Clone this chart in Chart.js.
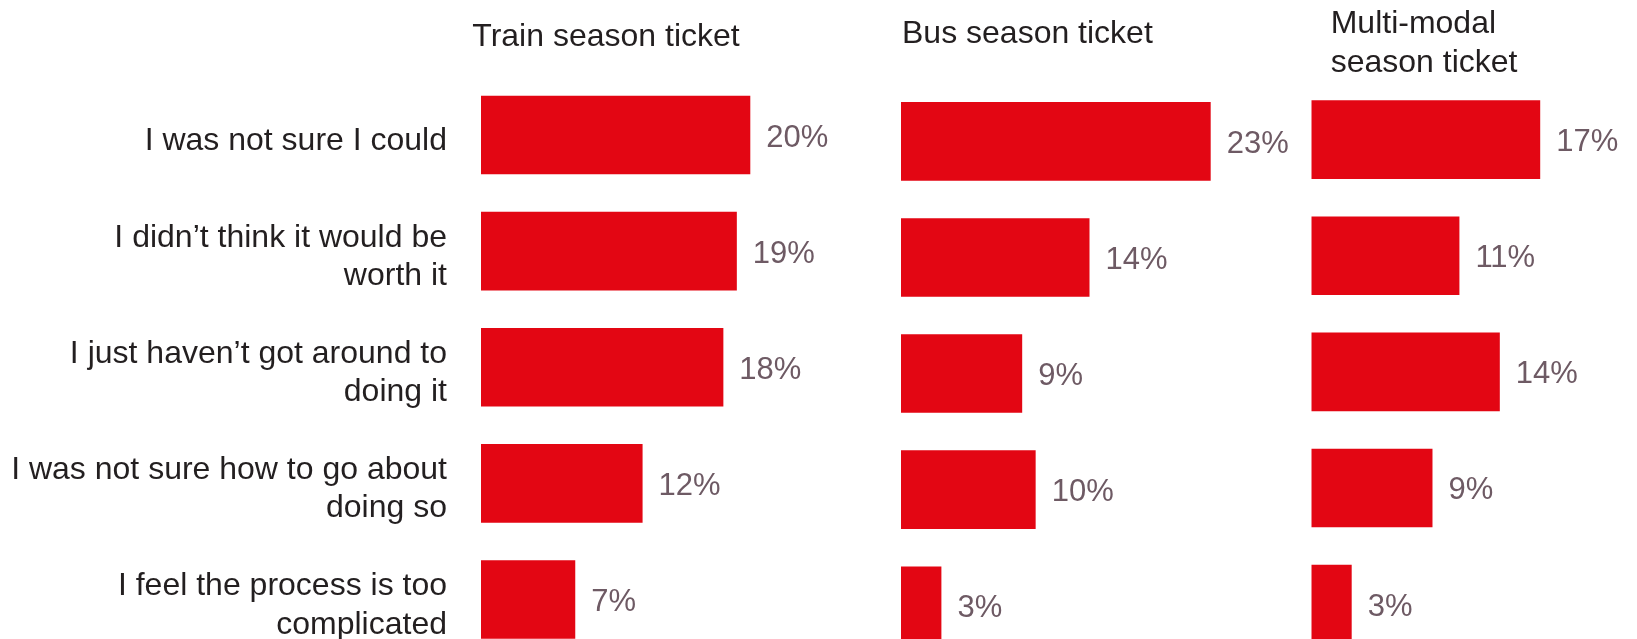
<!DOCTYPE html>
<html>
<head>
<meta charset="utf-8">
<title>Reasons for not buying a season ticket</title>
<script src="https://cdn.jsdelivr.net/npm/chart.js@4.4.0/dist/chart.umd.min.js"></script>
<style>
    html, body {
        margin: 0;
        padding: 0;
        background: #ffffff;
    }
    .stage {
        position: relative;
        width: 1637px;
        height: 639px;
        overflow: hidden;
    }
    .stage canvas {
        position: absolute;
        left: 0;
        top: 0;
    }
</style>
</head>
<body>
<div class="stage">
    <canvas id="train-chart" width="1637" height="680"></canvas>
    <canvas id="bus-chart" width="1637" height="680"></canvas>
    <canvas id="multi-chart" width="1637" height="680"></canvas>
</div>
<script>
// Survey answers (share of respondents, %)
const reasons = [
    'I was not sure I could',
    ['I didn’t think it would be', 'worth it'],
    ['I just haven’t got around to', 'doing it'],
    ['I was not sure how to go about', 'doing so'],
    ['I feel the process is too', 'complicated']
];
const trainValues = [20, 19, 18, 12, 7];
const busValues = [23, 14, 9, 10, 3];
const multiValues = [17, 11, 14, 9, 3];

const trainTitle = ['Train season ticket'];
const busTitle = ['Bus season ticket'];
const multiTitle = ['Multi-modal', 'season ticket'];

// Look
const FONT = "'Liberation Sans', Arial, Helvetica, sans-serif";
const BAR_RED = '#e30613';
const TEXT_DARK = '#231f20';
const VALUE_GREY = '#6e5a64';
const PX_PER_PCT = 13.465;   // same scale in all three panels
const X_MAX = 24;
const BAND = 116.1;          // height of one category row
const CANVAS_W = 1637;
const CANVAS_H = 680;

// writes "xx%" just right of each bar
const valueLabels = {
    id: 'valueLabels',
    afterDatasetsDraw(chart) {
        const ctx = chart.ctx;
        const meta = chart.getDatasetMeta(0);
        const values = chart.data.datasets[0].data;
        ctx.save();
        ctx.font = `31px ${FONT}`;
        ctx.fillStyle = VALUE_GREY;
        ctx.textAlign = 'left';
        ctx.textBaseline = 'middle';
        meta.data.forEach((bar, i) => {
            ctx.fillText(values[i] + '%', bar.x + 16, bar.y + 3);
        });
        ctx.restore();
    }
};

// panel heading, left-aligned near the bars
const panelTitle = {
    id: 'panelTitle',
    afterDraw(chart, args, opts) {
        const ctx = chart.ctx;
        ctx.save();
        ctx.font = `32px ${FONT}`;
        ctx.fillStyle = TEXT_DARK;
        ctx.textAlign = 'left';
        ctx.textBaseline = 'alphabetic';
        opts.lines.forEach((line, i) => {
            ctx.fillText(line, chart.chartArea.left + opts.dx, opts.baseline + i * 38.7);
        });
        ctx.restore();
    }
};

function makePanel(canvasId, values, title, place) {
    const areaW = X_MAX * PX_PER_PCT;
    const top = place.top;
    const bottom = CANVAS_H - top - BAND * reasons.length;
    const showAxis = !!place.axisWidth;

    return new Chart(document.getElementById(canvasId), {
        type: 'bar',
        data: {
            labels: reasons,
            datasets: [{
                data: values,
                backgroundColor: BAR_RED,
                borderWidth: 0,
                categoryPercentage: 1,
                barPercentage: 0.677
            }]
        },
        options: {
            indexAxis: 'y',
            responsive: false,
            animation: false,
            devicePixelRatio: 1,
            layout: {
                padding: {
                    left: showAxis ? 0 : place.left,
                    right: CANVAS_W - place.left - areaW,
                    top: top,
                    bottom: bottom
                }
            },
            scales: {
                x: {
                    display: false,
                    min: 0,
                    max: X_MAX
                },
                y: {
                    display: showAxis,
                    grid: { display: false, drawTicks: false },
                    border: { display: false },
                    ticks: {
                        color: TEXT_DARK,
                        padding: 34,
                        labelOffset: 6,
                        font: { family: FONT, size: 32, lineHeight: 1.206 }
                    },
                    afterFit(scale) {
                        if (!showAxis) return;
                        scale.width = place.axisWidth;
                        // labels may hang past the rows; keep the plot area fixed
                        scale.paddingTop = 0;
                        scale.paddingBottom = 0;
                    }
                }
            },
            plugins: {
                legend: { display: false },
                tooltip: { enabled: false },
                panelTitle: { lines: title, dx: place.titleDx, baseline: place.titleBaseline }
            }
        },
        plugins: [valueLabels, panelTitle]
    });
}

document.addEventListener('DOMContentLoaded', () => {
    makePanel('train-chart', trainValues, trainTitle,
        { left: 481, axisWidth: 481, top: 77, titleDx: -8.7, titleBaseline: 45.7 });
    makePanel('bus-chart', busValues, busTitle,
        { left: 901, top: 83.3, titleDx: 1, titleBaseline: 43.3 });
    makePanel('multi-chart', multiValues, multiTitle,
        { left: 1311.3, top: 81.6, titleDx: 19.4, titleBaseline: 33.3 });
});
</script>
</body>
</html>
